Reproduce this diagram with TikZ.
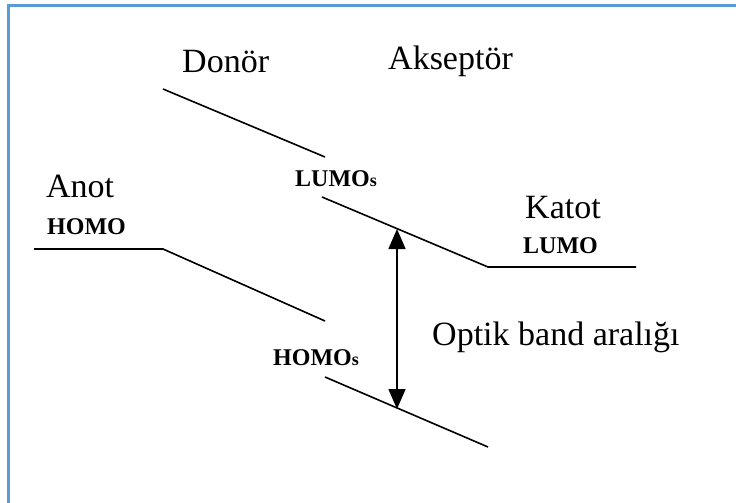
\documentclass[tikz,border=0pt]{standalone}
\usepackage{fontspec}
\setmainfont{Liberation Serif}
\usetikzlibrary{arrows.meta}
\definecolor{frameblue}{RGB}{91,155,213}
\tikzset{
  big/.style={inner sep=0pt, anchor=base west, font=\fontsize{34}{40}\selectfont},
  small/.style={inner sep=0pt, anchor=base west, font=\fontsize{24}{28}\selectfont\bfseries},
  level/.style={line width=1.6pt, black},
  gap/.style={line width=1.6pt, black, {Triangle[length=20pt,width=17pt]}-{Triangle[length=20pt,width=17pt]}}
}
\begin{document}
\begin{tikzpicture}[x=1pt,y=-1pt]
\useasboundingbox (0,0) rectangle (736,503);
\draw[frameblue, line width=3pt] (8,505) -- (8,6) -- (738,6);
% texts
\node[big] (donor) at (182,73) {Donör};
\node[big] (akseptor) at (388,70) {Akseptör};
\node[big] (anot) at (46,197) {Anot};
\node[small] (homo) at (47,234) {HOMO};
\node[big] (katot) at (525,218) {Katot};
\node[small] (lumo) at (523,253) {LUMO};
\node[small] (lumos) at (295,186) {LUMO{\fontsize{18}{18}\selectfont s}};
\node[small] (homos) at (273,365) {HOMO{\fontsize{18}{18}\selectfont s}};
\node[big] (optik) at (432,345) {Optik band aralığı};
% level coordinates
\coordinate (d1) at (163,89);
\coordinate (d2) at (325,157);
\coordinate (l1) at (322,197);
\coordinate (l2) at (488,267);
\coordinate (l3) at (636,267);
\coordinate (a1) at (34,249);
\coordinate (a2) at (163,249);
\coordinate (a3) at (325,321);
\coordinate (h1) at (325,377);
\coordinate (h2) at (488,447);
\coordinate (gtop) at (397,229);
\coordinate (gbot) at (397,409);
\draw[level] (d1) -- (d2);
\draw[level] (l1) -- (l2) -- (l3);
\draw[level] (a1) -- (a2) -- (a3);
\draw[level] (h1) -- (h2);
\draw[gap] (gbot) -- (gtop);
\end{tikzpicture}
\end{document}
